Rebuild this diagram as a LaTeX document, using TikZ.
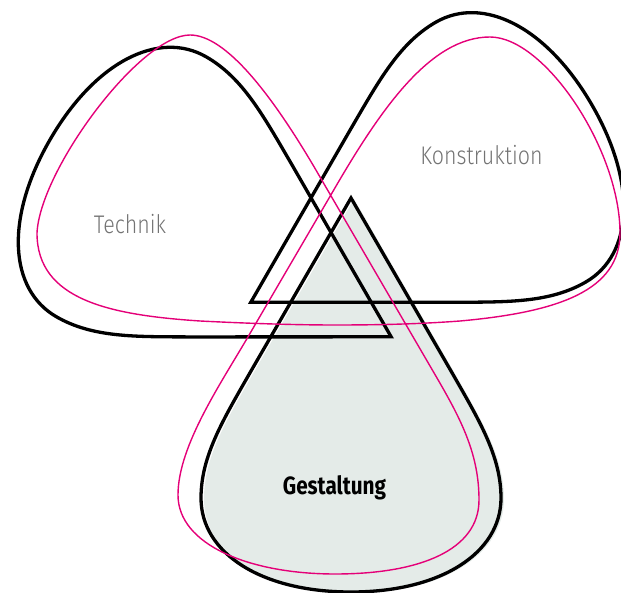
\documentclass[tikz,border=0pt]{standalone}
\usepackage{fontspec}
\newfontfamily\thinfont{Fira Sans Light}[FakeStretch=0.84]
\newfontfamily\heavyfont{Fira Sans Bold}[FakeStretch=0.83]
\definecolor{pinkline}{RGB}{228,0,120}
\definecolor{gestfill}{RGB}{228,235,232}
\definecolor{lblgray}{RGB}{115,115,115}
\tikzset{
  dropline/.style={draw=black, line width=3.3pt, line join=miter},
  pinkcurve/.style={draw=pinkline, line width=1.4pt},
  lbl/.style={text=lblgray, font=\thinfont\fontsize{25.5}{30}\selectfont, anchor=base, inner sep=0pt},
  blbl/.style={text=black, font=\heavyfont\fontsize{25}{30}\selectfont, anchor=base, inner sep=0pt}
}
\def\droppath{(0,0) -- (100,173) .. controls (128,222) and (150,258) .. (150,300) .. controls (150,355) and (90,394) .. (0,394) .. controls (-90,394) and (-150,355) .. (-150,300) .. controls (-150,258) and (-128,222) .. (-100,173) -- cycle}
\begin{document}
\begin{tikzpicture}[x=1pt,y=-1pt]
\path[use as bounding box] (0,0) rectangle (621,593);
% Gestaltung fill (slightly offset)
\begin{scope}[shift={(354,199)}]
  \fill[gestfill] \droppath;
\end{scope}
% Gestaltung outline
\begin{scope}[shift={(351,198)}]
  \draw[dropline] \droppath;
\end{scope}
% Technik outline
\begin{scope}[rotate around={-120:(331,279)}]
  \begin{scope}[shift={(351,198)}]
    \draw[dropline] \droppath;
  \end{scope}
\end{scope}
% Konstruktion outline
\begin{scope}[rotate around={120:(331,279)}]
  \begin{scope}[shift={(351,198)}]
    \draw[dropline] \droppath;
  \end{scope}
\end{scope}
% pink trefoil curve
\draw[pinkcurve] (335,325) .. controls (290,325) and (240,323) .. (200,321)
 .. controls (110,315) and (37,300) .. (37,233)
 .. controls (40,170) and (140,35) .. (190,35)
 .. controls (225,35) and (271,92) .. (320,177)
 -- (437,378)
 .. controls (462,421) and (479,455) .. (479,500)
 .. controls (479,550) and (420,574) .. (335,574)
 .. controls (250,574) and (178,545) .. (178,495)
 .. controls (178,445) and (222,382) .. (252,330)
 -- (332,193)
 .. controls (380,110) and (430,37) .. (490,37)
 .. controls (545,37) and (620,150) .. (620,233)
 .. controls (620,290) and (560,312) .. (460,321)
 .. controls (420,324) and (380,325) .. (335,325) -- cycle;
% labels
\node[lbl] (technik) at (130,234) {Technik};
\node[lbl] (konstruktion) at (481.5,165) {Konstruktion};
\node[blbl] (gestaltung) at (334.5,494) {Gestaltung};
\end{tikzpicture}
\end{document}
